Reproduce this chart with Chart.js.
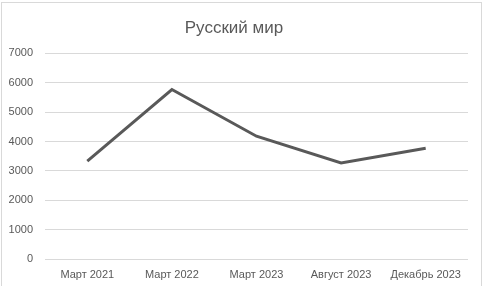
<!DOCTYPE html>
<html lang="ru">
    <head>
        <meta charset="UTF-8">
        <title>Русский мир</title>
        <script src="https://cdn.jsdelivr.net/npm/chart.js"></script>
        <style>
            html, body {
                margin: 0;
                padding: 0;
                background-color: #ffffff;
            }

            .frame {
                position: absolute;
                left: 1px;
                top: 2px;
                width: 479px;
                height: 300px;
                border: 1px solid #d9d9d9;
            }

            .chart-container {
                position: absolute;
                left: 0;
                top: 0;
                width: 482px;
                height: 286px;
            }
        </style>
    </head>
    <body>
        <div class="frame"></div>
        <div class="chart-container">
            <canvas id="chart" width="482" height="286"></canvas>
        </div>

        <script>
            const categories = ['Март 2021', 'Март 2022', 'Март 2023', 'Август 2023', 'Декабрь 2023'];
            const values = [3330, 5770, 4180, 3270, 3770];
            const yTicks = [0, 1000, 2000, 3000, 4000, 5000, 6000, 7000];

            const textColor = '#595959';
            const fontFamily = "'Liberation Sans', Arial, sans-serif";

            const ctx = document.getElementById('chart').getContext('2d');

            new Chart(ctx, {
                type: 'line',
                data: {
                    labels: categories,
                    datasets: [{
                        label: 'Русский мир',
                        data: values,
                        borderColor: '#595959',
                        borderWidth: 3,
                        pointRadius: 0,
                        tension: 0,
                        fill: false
                    }]
                },
                options: {
                    responsive: false,
                    animation: false,
                    layout: {
                        padding: { left: 0, right: 14, top: 0, bottom: 0 }
                    },
                    plugins: {
                        legend: { display: false },
                        tooltip: { enabled: false },
                        title: {
                            display: true,
                            text: 'Русский мир',
                            color: textColor,
                            font: { family: fontFamily, size: 17, weight: 'normal' },
                            padding: { top: 18, bottom: 15 }
                        }
                    },
                    scales: {
                        x: {
                            offset: true,
                            grid: { display: false, drawTicks: false },
                            border: { display: false },
                            ticks: {
                                color: textColor,
                                font: { family: fontFamily, size: 11 },
                                padding: 9,
                                maxRotation: 0,
                                autoSkip: false
                            },
                            afterFit: (scale) => { scale.height = 27; }
                        },
                        y: {
                            min: 0,
                            max: 7000,
                            afterBuildTicks: (scale) => {
                                scale.ticks = yTicks.map(v => ({ value: v }));
                            },
                            grid: { color: '#d9d9d9', drawTicks: false },
                            border: { display: false },
                            ticks: {
                                color: textColor,
                                font: { family: fontFamily, size: 11 },
                                padding: 12,
                                callback: (value) => String(value)
                            },
                            afterFit: (scale) => { scale.width = 45; }
                        }
                    }
                }
            });
        </script>
    </body>
</html>
